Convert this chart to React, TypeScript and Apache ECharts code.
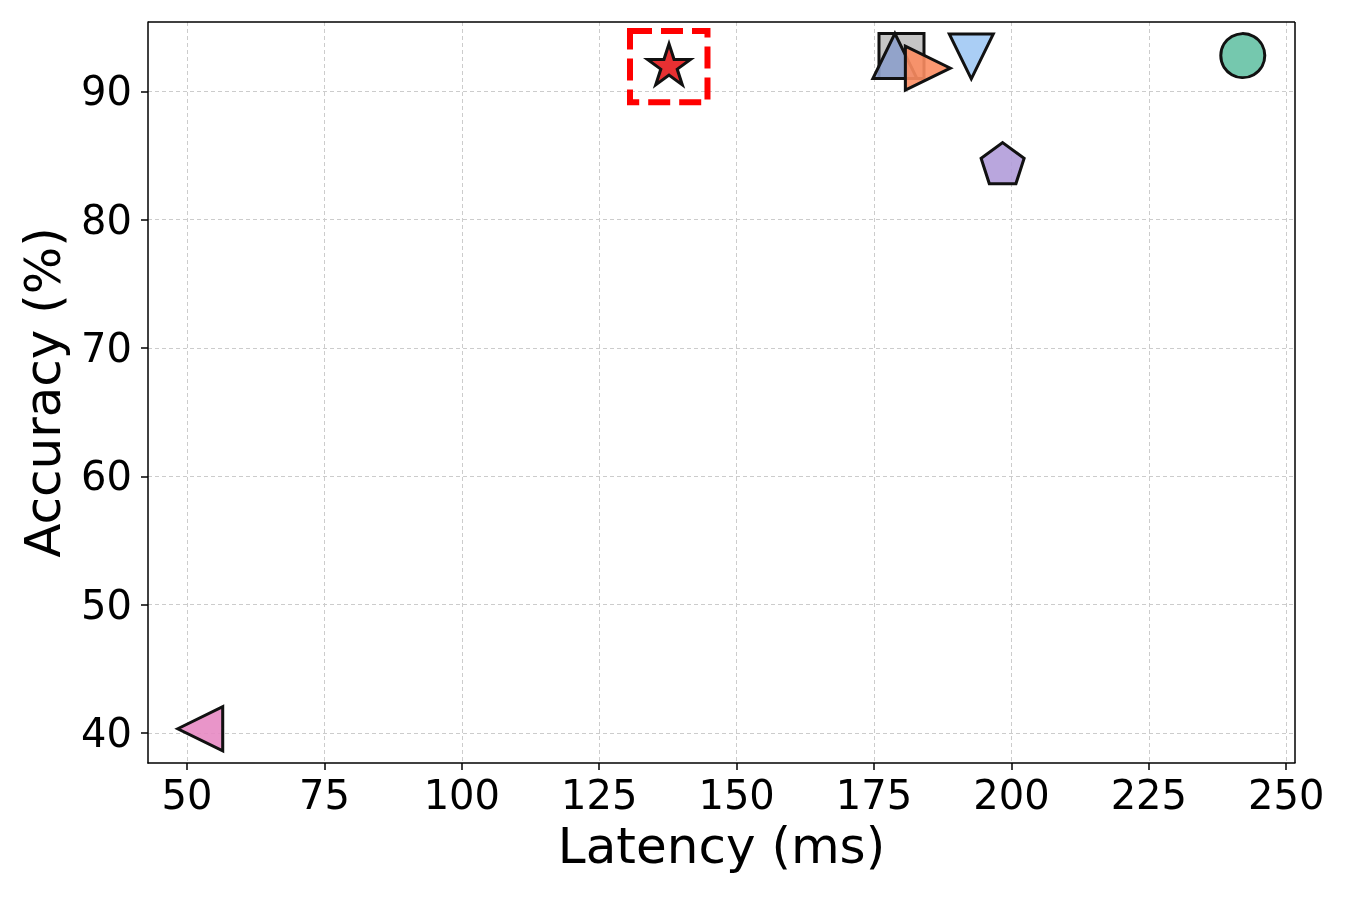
import React, { useEffect, useRef } from "react";
import * as echarts from "echarts";

const latency = [242.1, 180.0, 178.8, 184.8, 192.7, 198.4, 52.4, 137.7];
const accuracy = [92.78, 92.75, 92.75, 91.8, 92.72, 84.4, 40.33, 92.1];
const fillColors = ["#66c2a5", "#c0c0c0", "#8da0cb", "#fc8d62", "#a1c9f4", "#b19cd9", "#e78ac3", "#e41a1c"];
const xTicks = [50, 75, 100, 125, 150, 175, 200, 225, 250];
const yTicks = [40, 50, 60, 70, 80, 90];
const highlightBoxX = [130.6, 144.7];
const highlightBoxY = [89.15, 94.7];

function polyPath(n: number, inner: number | null): string {
  const pts: string[] = [];
  const count = inner === null ? n : n * 2;
  for (let i = 0; i < count; i++) {
    const r = inner === null ? 1 : i % 2 === 0 ? 1 : inner;
    const a = -Math.PI / 2 + (i * 2 * Math.PI) / count;
    pts.push(`${(r * Math.cos(a) * 100).toFixed(2)} ${(r * Math.sin(a) * 100).toFixed(2)}`);
  }
  return "path://M" + pts.join(" L") + " Z";
}

function withAlpha(hex: string, a: number): string {
  const r = parseInt(hex.slice(1, 3), 16);
  const g = parseInt(hex.slice(3, 5), 16);
  const b = parseInt(hex.slice(5, 7), 16);
  return `rgba(${r},${g},${b},${a})`;
}

const starPath = polyPath(5, 0.381966);
const pentagonPath = polyPath(5, null);

const symbols: any[] = ["circle", "rect", "triangle", "triangle", "triangle", pentagonPath, "triangle", starPath];
const sizes: any[] = [44, 45, [44, 45], [44, 45], [44, 45], [43, 41], [44, 45], [43, 41]];
const rotates = [0, 0, 0, -90, 180, 0, 90, 0];

export default function App() {
  const ref = useRef<HTMLDivElement>(null);
  useEffect(() => {
    const chart = echarts.init(ref.current!, null, { renderer: "svg" });
    const series: any[] = latency.map((x, i) => {
      const s: any = {
        type: "scatter",
        data: [[x, accuracy[i]]],
        symbol: symbols[i],
        symbolSize: sizes[i],
        symbolRotate: rotates[i],
        itemStyle: {
          color: withAlpha(fillColors[i], 0.9),
          opacity: 1,
          borderColor: "#111111",
          borderWidth: 3,
        },
        emphasis: { disabled: true },
      };
      if (i === latency.length - 1) {
        s.markArea = {
          silent: true,
          itemStyle: {
            color: "rgba(0,0,0,0)",
            borderColor: "#ff0000",
            borderWidth: 6,
            borderType: [22, 9],
          },
          data: [[{ coord: [highlightBoxX[0], highlightBoxY[1]] }, { coord: [highlightBoxX[1], highlightBoxY[0]] }]],
        };
      }
      return s;
    });
    chart.setOption({
      animation: false,
      grid: { left: 148, right: 56, top: 22, bottom: 138, containLabel: false },
      xAxis: {
        type: "value",
        min: 42.9,
        max: 251.6,
        name: "Latency (ms)",
        nameLocation: "middle",
        nameGap: 58,
        nameTextStyle: { fontFamily: "DejaVu Sans", fontSize: 50, color: "#000" },
        axisLine: { show: true, onZero: false, lineStyle: { color: "#000", width: 1.5 } },
        axisTick: { show: true, length: 7, lineStyle: { color: "#000", width: 1.5 }, customValues: xTicks },
        axisLabel: { fontFamily: "DejaVu Sans", fontSize: 40, color: "#000", margin: 12, customValues: xTicks },
        splitLine: { show: true, lineStyle: { color: "#cccccc", width: 1, type: [4, 3] } },
      },
      yAxis: {
        type: "value",
        min: 37.66,
        max: 95.4,
        name: "Accuracy (%)",
        nameLocation: "middle",
        nameGap: 80,
        nameTextStyle: { fontFamily: "DejaVu Sans", fontSize: 50, color: "#000" },
        axisLine: { show: true, onZero: false, lineStyle: { color: "#000", width: 1.5 } },
        axisTick: { show: true, length: 7, lineStyle: { color: "#000", width: 1.5 }, customValues: yTicks },
        axisLabel: { fontFamily: "DejaVu Sans", fontSize: 40, color: "#000", margin: 16, customValues: yTicks },
        splitLine: { show: true, lineStyle: { color: "#cccccc", width: 1, type: [4, 3] } },
      },
      series: [
        ...series,
        {
          type: "line",
          data: [],
          markLine: {
            silent: true,
            symbol: "none",
            label: { show: false },
            lineStyle: { color: "#000", width: 1.5, type: "solid" },
            data: [{ yAxis: 95.4 }, { xAxis: 251.6 }],
          },
        },
      ],
    });
    return () => chart.dispose();
  }, []);
  return <div ref={ref} style={{ position: "fixed", left: 0, top: 0, width: 1351, height: 901 }} />;
}
